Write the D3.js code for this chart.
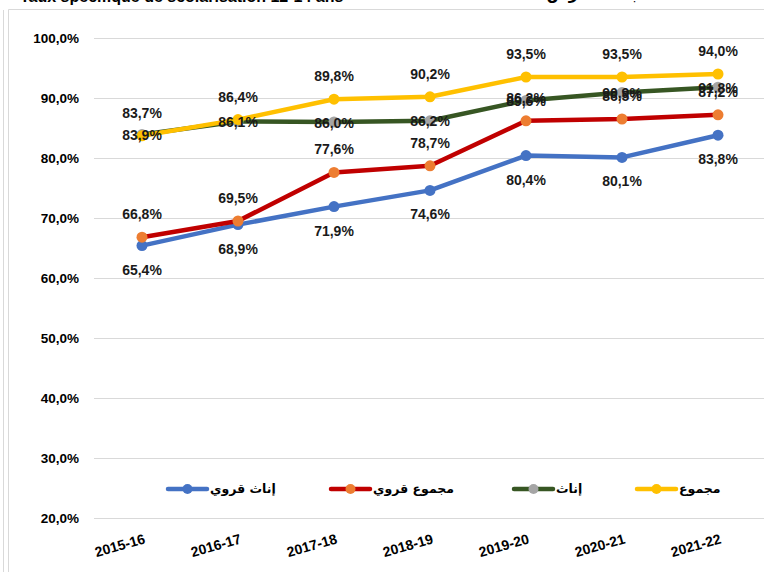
<!DOCTYPE html>
<html>
<head>
<meta charset="utf-8">
<script src="https://cdn.jsdelivr.net/npm/d3@7"></script>
<style>
  html, body { margin: 0; padding: 0; background: #fff; }
  svg { display: block; }
</style>
</head>
<body>
<div id="chart"></div>
<script>
// data
const years = ["2015-16", "2016-17", "2017-18", "2018-19", "2019-20", "2020-21", "2021-22"];
const seriesNames = ["إناث قروي", "مجموع قروي", "إناث", "مجموع"];
const filleRural = [65.4, 68.9, 71.9, 74.6, 80.4, 80.1, 83.8];
const totalRural = [66.8, 69.5, 77.6, 78.7, 86.2, 86.5, 87.2];
const filles = [83.9, 86.1, 86.0, 86.2, 89.6, 90.9, 91.8];
const total = [83.7, 86.4, 89.8, 90.2, 93.5, 93.5, 94.0];
const yTicks = [20, 30, 40, 50, 60, 70, 80, 90, 100];

const width = 764, height = 572;

const series = [
  {name: seriesNames[0], values: filleRural, line: "#4472c4", dot: "#4472c4", label: "below"},
  {name: seriesNames[1], values: totalRural, line: "#c00000", dot: "#ed7d31", label: "above"},
  {name: seriesNames[2], values: filles, line: "#375623", dot: "#a5a5a5", label: "center"},
  {name: seriesNames[3], values: total, line: "#ffc000", dot: "#ffc000", label: "above"}
];

const svg = d3.select("#chart").append("svg")
    .attr("width", width)
    .attr("height", height)
    .style("font-family", "'Liberation Sans', Arial, sans-serif");

// outer frame bits
svg.append("line").attr("x1", 3.5).attr("x2", 3.5).attr("y1", 10).attr("y2", height).attr("stroke", "#d9d9d9");
svg.append("line").attr("x1", 8.5).attr("x2", 8.5).attr("y1", 9.5).attr("y2", height).attr("stroke", "#d9d9d9");
svg.append("line").attr("x1", 8.5).attr("x2", width).attr("y1", 9.5).attr("y2", 9.5).attr("stroke", "#d9d9d9");

// title, cut off at the top like the original
svg.append("text")
    .attr("x", 20).attr("y", 2)
    .attr("font-size", 16).attr("font-weight", "bold")
    .text("Taux spécifique de scolarisation 12-14 ans");
svg.append("text")
    .attr("x", 660).attr("y", -1)
    .attr("text-anchor", "end")
    .attr("font-size", 16).attr("font-weight", "bold")
    .attr("font-family", "'DejaVu Sans', sans-serif")
    .text("نسبة التمدرس الخاصة 12-14 سنة");

const x = d3.scalePoint().domain(years).range([142, 718]);
const y = d3.scaleLinear().domain([20, 100]).range([518, 38]);

const fmt = v => d3.format(".1f")(v).replace(".", ",") + "%";

// gridlines
svg.append("g")
  .selectAll("line")
  .data(yTicks)
  .join("line")
    .attr("x1", 94).attr("x2", width)
    .attr("y1", d => Math.round(y(d)) + 0.5)
    .attr("y2", d => Math.round(y(d)) + 0.5)
    .attr("stroke", "#d9d9d9")
    .attr("stroke-width", 1);

// y axis labels
svg.append("g")
  .selectAll("text")
  .data(yTicks)
  .join("text")
    .attr("x", 79)
    .attr("y", d => y(d))
    .attr("dy", "0.35em")
    .attr("text-anchor", "end")
    .attr("font-size", 13.5)
    .attr("font-weight", "bold")
    .text(d => d3.format(".1f")(d).replace(".", ",") + "%");

// x axis labels, slanted
svg.append("g")
  .selectAll("text")
  .data(years)
  .join("text")
    .attr("transform", d => `translate(${x(d) + 4},543) rotate(-16)`)
    .attr("text-anchor", "end")
    .attr("font-size", 14)
    .attr("font-weight", "bold")
    .text(d => d);

const line = d3.line()
    .x((d, i) => x(years[i]))
    .y(d => y(d));

series.forEach(s => {
  svg.append("path")
      .datum(s.values)
      .attr("d", line)
      .attr("fill", "none")
      .attr("stroke", s.line)
      .attr("stroke-width", 4.5)
      .attr("stroke-linejoin", "round")
      .attr("stroke-linecap", "round");
  svg.append("g")
    .selectAll("circle")
    .data(s.values)
    .join("circle")
      .attr("cx", (d, i) => x(years[i]))
      .attr("cy", d => y(d))
      .attr("r", 5.5)
      .attr("fill", s.dot);
});

// data labels on top of everything
series.forEach(s => {
  const off = s.label == "above" ? -18 : s.label == "below" ? 29 : 5.5;
  svg.append("g")
    .selectAll("text")
    .data(s.values)
    .join("text")
      .attr("x", (d, i) => x(years[i]))
      .attr("y", d => y(d) + off)
      .attr("text-anchor", "middle")
      .attr("font-size", 14)
      .attr("font-weight", "bold")
      .attr("fill", "#1a1a1a")
      .text(fmt);
});

// legend
const legendX = [168, 331, 514, 637];
const legend = svg.append("g")
  .selectAll("g")
  .data(series)
  .join("g")
    .attr("transform", (d, i) => `translate(${legendX[i]},489)`);

legend.append("line")
    .attr("x1", 0).attr("x2", 39)
    .attr("stroke", d => d.line)
    .attr("stroke-width", 4.5)
    .attr("stroke-linecap", "round");
legend.append("circle")
    .attr("cx", 19.5)
    .attr("r", 5)
    .attr("fill", d => d.dot);
legend.append("text")
    .attr("x", 42)
    .attr("dy", "0.35em")
    .attr("font-size", 12.5)
    .attr("font-weight", "bold")
    .attr("font-family", "'DejaVu Sans', sans-serif")
    .text(d => d.name);
</script>
</body>
</html>
